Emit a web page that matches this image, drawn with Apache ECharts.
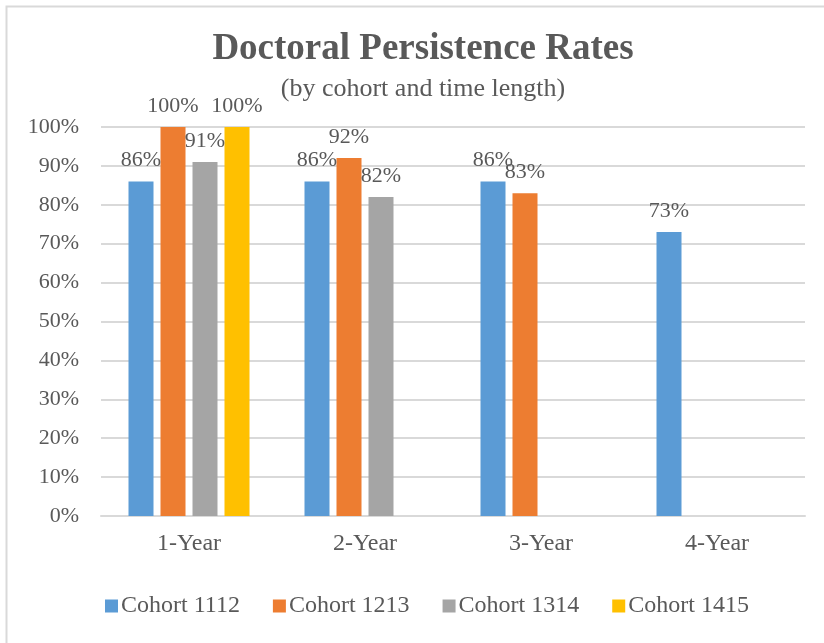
<!DOCTYPE html>
<html>
<head>
<meta charset="utf-8">
<script src="https://cdn.jsdelivr.net/npm/echarts@6/dist/echarts.min.js"></script>
<style>
  html, body { margin: 0; padding: 0; background: #fff; }
  #chart { width: 824px; height: 643px; }
</style>
</head>
<body>
<div id="chart"></div>
<script>
const categories = ['1-Year', '2-Year', '3-Year', '4-Year'];
const cohort1112 = [86, 86, 86, 73];
const cohort1213 = [100, 92, 83, '-'];
const cohort1314 = [91, 82, '-', '-'];
const cohort1415 = [100, '-', '-', '-'];
const yTicks = [0, 10, 20, 30, 40, 50, 60, 70, 80, 90, 100];

const seriesNames = ['Cohort 1112', 'Cohort 1213', 'Cohort 1314', 'Cohort 1415'];
const seriesData = [cohort1112, cohort1213, cohort1314, cohort1415];
const colors = ['#5B9BD5', '#ED7D31', '#A5A5A5', '#FFC000'];

const font = '"Liberation Serif", "Times New Roman", serif';
const textColor = '#595959';

const myChart = echarts.init(document.getElementById('chart'));

myChart.setOption({
  animation: false,
  color: colors,
  textStyle: { fontFamily: font },
  graphic: [{
    type: 'rect',
    shape: { x: 6.5, y: 6.5, width: 840, height: 660 },
    style: { fill: 'none', stroke: '#D9D9D9', lineWidth: 2 },
    silent: true
  }],
  title: {
    text: 'Doctoral Persistence Rates',
    subtext: '(by cohort and time length)',
    left: 418,
    textAlign: 'center',
    top: 26,
    itemGap: 8,
    textStyle: { fontFamily: font, fontSize: 37, fontWeight: 'bold', color: textColor },
    subtextStyle: { fontFamily: font, fontSize: 26, color: textColor }
  },
  legend: {
    data: seriesNames,
    bottom: 20,
    left: 100,
    icon: 'rect',
    itemWidth: 13,
    itemHeight: 13,
    itemGap: 33,
    textStyle: { fontFamily: font, fontSize: 24, color: textColor, padding: [0, 0, 0, -2] }
  },
  grid: { left: 101, right: 19, top: 127, bottom: 127 },
  xAxis: {
    type: 'category',
    data: categories,
    axisTick: { show: false },
    axisLine: { lineStyle: { color: '#D9D9D9', width: 2 } },
    axisLabel: { fontFamily: font, fontSize: 24, color: textColor, margin: 16 }
  },
  yAxis: {
    type: 'value',
    min: yTicks[0],
    max: yTicks[yTicks.length - 1],
    interval: 10,
    axisLine: { show: false },
    axisTick: { show: false },
    splitLine: { lineStyle: { color: '#D9D9D9', width: 2 } },
    axisLabel: { fontFamily: font, fontSize: 22, color: textColor, margin: 22, formatter: '{value}%' }
  },
  series: seriesNames.map((name, i) => ({
    name: name,
    type: 'bar',
    data: seriesData[i],
    barWidth: 25,
    barGap: '28%',
    label: {
      show: true,
      position: 'top',
      distance: 10,
      formatter: '{c}%',
      fontFamily: font,
      fontSize: 22,
      color: textColor
    }
  }))
});
</script>
</body>
</html>
